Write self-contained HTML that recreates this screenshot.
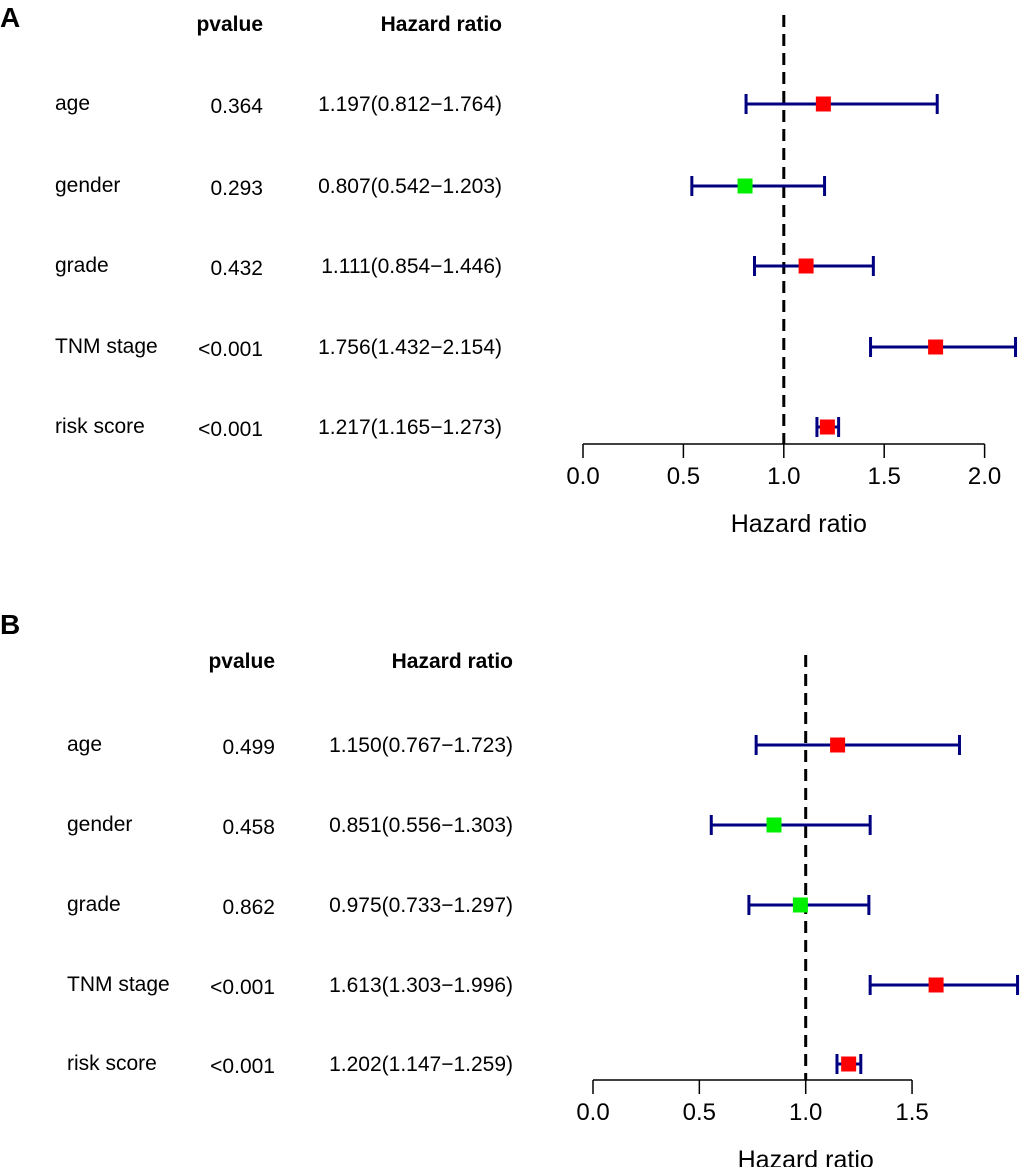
<!DOCTYPE html>
<html><head><meta charset="utf-8"><style>
body{margin:0;background:#fff}
svg{display:block;font-family:"Liberation Sans",Arial,sans-serif}
</style></head><body>
<svg id="chart" width="1020" height="1167" viewBox="0 0 1020 1167" xmlns="http://www.w3.org/2000/svg"></svg>
<script>
const variables = ["age","gender","grade","TNM stage","risk score"];
const pvalA = ["0.364","0.293","0.432","<0.001","<0.001"];
const hrA = [1.197,0.807,1.111,1.756,1.217];
const lowA = [0.812,0.542,0.854,1.432,1.165];
const highA = [1.764,1.203,1.446,2.154,1.273];
const ticksA = [0,0.5,1,1.5,2];
const pvalB = ["0.499","0.458","0.862","<0.001","<0.001"];
const hrB = [1.150,0.851,0.975,1.613,1.202];
const lowB = [0.767,0.556,0.733,1.303,1.147];
const highB = [1.723,1.303,1.297,1.996,1.259];
const ticksB = [0,0.5,1,1.5];

const NS="http://www.w3.org/2000/svg";
const svg=document.getElementById('chart');
function mk(tag,attrs,parent,text){const e=document.createElementNS(NS,tag);for(const k in attrs)e.setAttribute(k,attrs[k]);if(text!==undefined)e.textContent=text;(parent||svg).appendChild(e);return e;}

function panel(cfg){
  const g=mk('g',{});
  
  
  const x=v=>cfg.x0+v*cfg.pxu;
  const lab=mk('text',{x:0,y:cfg.letterY,'font-size':28,'font-weight':'bold'},g,cfg.letter);
  
  
  const h1=mk('text',{x:cfg.pRight,y:cfg.headY,'font-size':21,'font-weight':'bold','text-anchor':'end'},g,'pvalue');
  
  
  const h2=mk('text',{x:cfg.hRight,y:cfg.headY,'font-size':21,'font-weight':'bold','text-anchor':'end'},g,'Hazard ratio');
  
  
  const dl=mk('line',{x1:x(1),x2:x(1),y1:cfg.dashTop,y2:cfg.axisY,stroke:'#000','stroke-width':3,'stroke-dasharray':'12,7'},g);
  
  
  for(let i=0;i<variables.length;i++){
    const y=cfg.rows[i];
    const t1=mk('text',{x:cfg.nameX,y:y+6,'font-size':21},g,variables[i]);
    
    
    const t2=mk('text',{x:cfg.pRight,y:y+9,'font-size':21,'text-anchor':'end'},g,cfg.pval[i]);
    
    
    const txt=cfg.hr[i].toFixed(3)+'('+cfg.low[i].toFixed(3)+'\u2212'+cfg.high[i].toFixed(3)+')';
    const t3=mk('text',{x:cfg.hRight,y:y+7,'font-size':21,'text-anchor':'end'},g,txt);
    
    
    const ci=mk('g',{stroke:'#000080','stroke-width':3},g);
    
    
    mk('line',{x1:x(cfg.low[i]),x2:x(cfg.high[i]),y1:y,y2:y},ci);
    mk('line',{x1:x(cfg.low[i]),x2:x(cfg.low[i]),y1:y-10,y2:y+10},ci);
    mk('line',{x1:x(cfg.high[i]),x2:x(cfg.high[i]),y1:y-10,y2:y+10},ci);
    const sq=mk('rect',{x:x(cfg.hr[i])-7.5,y:y-7.5,width:15,height:15,fill:cfg.hr[i]>1?'#ff0000':'#00ee00'},g);
    
    
  }
  const ax=mk('g',{stroke:'#000','stroke-width':1.5},g);
  
  
  mk('line',{x1:x(cfg.ticks[0]),x2:x(cfg.ticks[cfg.ticks.length-1]),y1:cfg.axisY,y2:cfg.axisY},ax);
  cfg.ticks.forEach(t=>{
    mk('line',{x1:x(t),x2:x(t),y1:cfg.axisY,y2:cfg.axisY+14},ax);
    const tl=mk('text',{x:x(t),y:cfg.axisY+40,'font-size':24,'text-anchor':'middle',stroke:'none'},g,t.toFixed(1));
    
    
  });
  const at=mk('text',{x:x(1)+cfg.titleShift,y:cfg.axisY+88,'font-size':25,'text-anchor':'middle'},g,'Hazard ratio');
  
  
}
panel({letter:'A',letterY:27,headY:31,nameX:55,pRight:263,hRight:502,rows:[104,186,266,347,427],x0:583,pxu:200.8,dashTop:15,axisY:444,ticks:ticksA,pval:pvalA,hr:hrA,low:lowA,high:highA,titleShift:15});
panel({letter:'B',letterY:634,headY:668,nameX:67,pRight:275,hRight:513,rows:[745,825,905,985,1064],x0:593,pxu:212.7,dashTop:655,axisY:1080,ticks:ticksB,pval:pvalB,hr:hrB,low:lowB,high:highB,titleShift:0});
</script>
</body></html>
